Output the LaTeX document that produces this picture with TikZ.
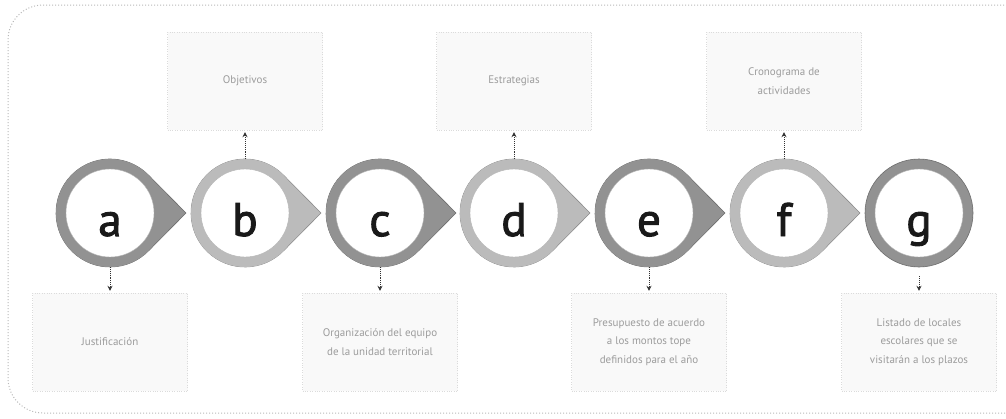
\documentclass[tikz,border=0pt]{standalone}
\usepackage{fontspec}
\setmainfont{PT Sans}
\newfontfamily\letterfont[FakeBold=2]{PT Sans}
\usetikzlibrary{backgrounds,calc,arrows.meta}
\definecolor{ringA}{HTML}{929292}
\definecolor{ringB}{HTML}{BBBBBB}
\definecolor{txt}{HTML}{9C9C9C}
\begin{document}
\begin{tikzpicture}[x=1pt,y=-1pt,
  outer/.style={circle,minimum size=108pt,inner sep=0pt,outer sep=0pt,fill=#1},
  whitecore/.style={circle,minimum size=88pt,inner sep=0pt,fill=white,draw=gray!60,line width=0.4pt},
  letter/.style={anchor=base,inner sep=0pt,font=\letterfont\fontsize{47}{47}\selectfont,text=black!90},
  infobox/.style={minimum width=155pt,minimum height=98pt,fill=gray!5,draw=gray!28,dotted,text=txt,
    font=\fontsize{11}{18.5}\selectfont,align=center},
  link/.style={densely dotted,draw=gray!40!black,line width=0.9pt,shorten >=2pt,-{Stealth[length=5pt,width=5pt]}},
  tear/.style={fill=#1,draw=#1!75!black,line width=0.6pt},
  frame/.style={draw=gray!55,dotted,line width=1pt,rounded corners=35pt}
]
\useasboundingbox (0,0) rectangle (1006,418);
\draw[frame] (1040,5) -- (8,5) -- (8,413) -- (1040,413);

% circles
\foreach \n/\x/\c in {a/110/ringA,b/245/ringB,c/380/ringA,d/514/ringB,e/649/ringA,f/784/ringB,g/919/ringA}{
  \node[outer=\c] (\n) at (\x,213) {};
  \node[whitecore] (w\n) at (\n.center) {};
  \node[letter] (l\n) at ($(\n.center)+(0,23)$) {\n};
}
\draw[ringA!75!black,line width=0.6pt] (g) circle[radius=54];

\begin{scope}[on background layer]
\foreach \n/\c in {a/ringA,b/ringB,c/ringA,d/ringB,e/ringA,f/ringB}{
  \draw[tear=\c] ($(\n.center)+(76,0)$) -- ($(\n.center)+(43.9:54)$)
     arc[start angle=43.9,end angle=316.1,radius=54] -- cycle;
}
\end{scope}

% boxes
\node[infobox] (ba) at (110,342) {Justificación};
\node[infobox] (bb) at (245,81) {Objetivos};
\node[infobox] (bc) at (380,342) {Organización del equipo\\de la unidad territorial};
\node[infobox] (bd) at (514,81) {Estrategias};
\node[infobox] (be) at (649,342) {Presupuesto de acuerdo\\a los montos tope\\definidos para el año};
\node[infobox] (bf) at (784,81) {Cronograma de\\actividades};
\node[infobox] (bg) at (919,342) {Listado de locales\\escolares que se\\visitarán a los plazos};

% connectors
\draw[link] (a.south) -- (ba.north);
\draw[link] (c.south) -- (bc.north);
\draw[link] (e.south) -- (be.north);
\draw[link,shorten <=9pt] (g.south) -- (bg.north);
\draw[link] (b.north) -- (bb.south);
\draw[link] (d.north) -- (bd.south);
\draw[link] (f.north) -- (bf.south);
\end{tikzpicture}
\end{document}
